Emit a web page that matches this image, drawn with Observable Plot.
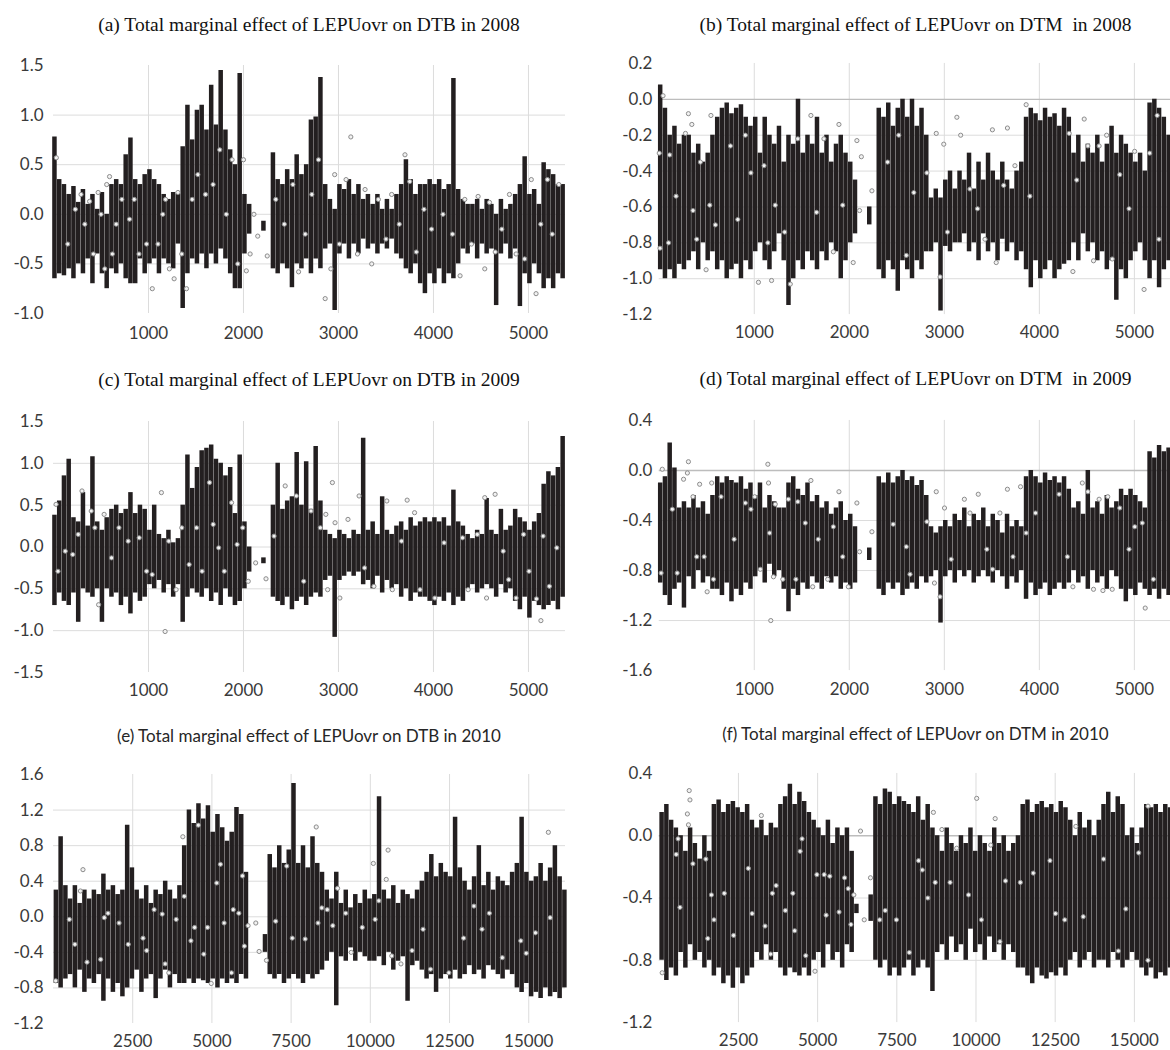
<!DOCTYPE html>
<html>
<head>
<meta charset="utf-8">
<script src="https://cdn.jsdelivr.net/npm/d3@7"></script>
<script src="https://cdn.jsdelivr.net/npm/@observablehq/plot@0.6"></script>
<style>
  html, body { margin: 0; padding: 0; background: #fff; }
  body { width: 1170px; height: 1050px; overflow: hidden; position: relative; }
  .panel { position: absolute; }
  .title { position: absolute; transform: translate(-50%, -50%); white-space: pre; color: #111; }
  .serif { font-family: "Liberation Serif", "DejaVu Serif", serif; font-size: 19.5px; }
  .sans { font-family: Lato, "Open Sans", sans-serif; font-size: 17px; color: #262626; }
</style>
</head>
<body>
<script>
// ---------------- tick labels ----------------
const xTicks0809 = [1000, 2000, 3000, 4000, 5000];
const xTicks2010 = [2500, 5000, 7500, 10000, 12500, 15000];
const yTicksA = [-1, -0.5, 0, 0.5, 1, 1.5];
const yTicksB = [-1.2, -1, -0.8, -0.6, -0.4, -0.2, 0, 0.2];
const yTicksC = [-1.5, -1, -0.5, 0, 0.5, 1, 1.5];
const yTicksD = [-1.6, -1.2, -0.8, -0.4, 0, 0.4];
const yTicksE = [-1.2, -0.8, -0.4, 0, 0.4, 0.8, 1.2, 1.6];
const yTicksF = [-1.2, -0.8, -0.4, 0, 0.4];

// observation numbering of the bar series (first observation, spacing)
const obs0809 = {start: 10, step: 50};
const obs2010 = {start: 75, step: 150};

// ---------------- bars: [low, high] per observation ----------------
const barsA = [
[-0.65,0.78],[-0.60,0.35],[-0.62,0.30],[-0.55,0.20],[-0.65,0.28],[-0.50,0.12],[-0.60,0.25],[-0.45,0.10],[-0.70,0.20],[-0.40,0.05],
[-0.60,0.22],[-0.75,0.00],[-0.55,0.30],[-0.60,0.35],[-0.50,0.30],[-0.65,0.60],[-0.70,0.77],[-0.70,0.35],[-0.45,0.30],[-0.60,0.40],
[-0.50,0.45],[-0.45,0.35],[-0.60,0.30],[-0.45,0.20],[-0.50,0.15],[-0.55,0.22],[-0.30,0.20],[-0.95,0.68],[-0.60,1.10],[-0.45,0.75],
[-0.50,1.05],[-0.40,1.10],[-0.55,0.85],[-0.40,1.30],[-0.50,0.90],[-0.35,1.45],[-0.45,0.85],[-0.60,0.65],[-0.75,0.50],[-0.75,1.42],
[-0.40,0.20],[-0.20,0.10],null,null,[-0.17,-0.07],null,[-0.55,0.62],[-0.60,0.35],[-0.50,0.30],[-0.55,0.45],
[-0.74,0.35],[-0.50,0.60],[-0.55,0.40],[-0.45,0.50],[-0.60,0.95],[-0.45,0.98],[-0.55,1.38],[-0.35,0.30],[-0.30,0.15],[-0.97,0.05],
[-0.40,0.30],[-0.30,0.25],[-0.45,0.35],[-0.30,0.20],[-0.40,0.30],[-0.25,0.15],[-0.35,0.20],[-0.30,0.10],[-0.40,0.20],[-0.30,0.05],
[-0.35,0.15],[-0.25,0.05],[-0.40,0.20],[-0.45,0.30],[-0.55,0.55],[-0.60,0.35],[-0.50,0.20],[-0.70,0.30],[-0.80,0.30],[-0.60,0.35],
[-0.70,0.30],[-0.55,0.35],[-0.70,0.25],[-0.60,0.30],[-0.65,1.37],[-0.50,0.25],[-0.35,0.15],[-0.40,0.10],[-0.30,0.10],[-0.45,0.15],
[-0.30,0.05],[-0.40,0.15],[-0.35,0.10],[-0.92,0.00],[-0.40,0.15],[-0.30,0.05],[-0.45,0.10],[-0.35,0.20],[-0.93,0.30],[-0.60,0.58],
[-0.70,0.20],[-0.50,0.25],[-0.60,0.10],[-0.75,0.52],[-0.65,0.45],[-0.75,0.40],[-0.60,0.30],[-0.65,0.30]
];
const barsB = [
[-0.95,0.08],[-1.00,-0.05],[-0.95,-0.20],[-1.00,-0.15],[-0.92,-0.25],[-0.95,-0.20],
[-0.90,-0.20],[-0.85,-0.30],[-0.95,-0.25],[-0.80,-0.35],[-0.90,-0.30],[-0.85,-0.20],
[-0.95,-0.10],[-0.90,-0.05],[-1.00,-0.02],[-0.95,-0.08],[-0.92,-0.05],[-1.00,-0.03],[-0.90,-0.10],[-0.95,-0.15],[-0.85,-0.10],
[-0.80,-0.30],[-0.90,-0.10],[-0.95,-0.20],[-0.85,-0.25],[-0.75,-0.15],[-0.90,-0.35],
[-1.15,-0.20],[-1.00,-0.25],[-0.90,0.00],[-0.95,-0.30],[-0.85,-0.20],[-0.90,-0.25],[-0.95,-0.10],[-0.85,-0.30],[-0.90,-0.20],[-0.80,-0.35],[-0.85,-0.25],[-1.00,-0.20],[-0.90,-0.30],[-0.80,-0.35],
[-0.75,-0.45],null,null,[-0.70,-0.60],null,
[-0.95,-0.05],[-1.00,-0.10],[-0.90,-0.02],[-0.95,-0.15],[-1.07,-0.05],[-0.90,0.00],[-0.95,-0.10],[-1.00,0.00],[-0.90,-0.15],[-0.95,-0.05],[-0.85,-0.20],
[-0.85,-0.55],[-0.80,-0.50],[-1.18,-0.55],[-0.82,-0.45],[-0.85,-0.40],[-0.80,-0.50],
[-0.80,-0.40],[-0.75,-0.45],[-0.85,-0.30],[-0.80,-0.50],[-0.90,-0.35],[-0.75,-0.45],[-0.85,-0.30],[-0.80,-0.40],[-0.90,-0.45],[-0.78,-0.35],
[-0.85,-0.45],[-0.80,-0.50],[-0.90,-0.40],[-0.85,-0.35],
[-0.95,-0.10],[-1.05,-0.05],[-0.90,-0.08],[-1.00,-0.12],[-0.95,-0.05],[-0.90,-0.10],[-1.00,-0.08],[-0.95,-0.15],[-0.92,-0.05],[-0.90,-0.10],
[-0.80,-0.30],[-0.90,-0.20],[-0.75,-0.35],[-0.85,-0.25],[-0.80,-0.30],[-0.90,-0.20],[-0.85,-0.35],
[-0.95,-0.25],[-0.90,-0.15],[-1.12,-0.30],[-0.95,-0.20],[-1.00,-0.25],[-0.90,-0.30],
[-0.85,-0.35],[-0.80,-0.30],[-0.90,-0.40],
[-1.00,-0.02],[-0.90,0.00],[-1.05,-0.05],[-0.95,-0.10],[-0.90,-0.20]
];
const barsC = [
[-0.70,0.38],[-0.55,0.55],[-0.65,0.85],[-0.70,1.05],[-0.55,0.35],[-0.90,0.30],[-0.50,0.65],[-0.55,0.25],[-0.60,1.08],[-0.50,0.30],
[-0.90,0.20],[-0.50,0.35],[-0.60,0.45],[-0.55,0.50],[-0.70,0.40],[-0.60,0.45],[-0.80,0.65],[-0.55,0.40],[-0.65,0.50],[-0.60,0.45],
[-0.45,0.20],[-0.50,0.50],[-0.40,0.15],[-0.55,0.10],[-0.45,0.20],[-0.60,0.05],[-0.45,0.10],[-0.90,0.50],[-0.60,1.10],[-0.50,0.70],
[-0.55,0.95],[-0.60,1.15],[-0.50,1.18],[-0.65,1.22],[-0.55,1.05],[-0.70,1.00],[-0.50,0.85],[-0.60,0.95],[-0.70,0.40],[-0.65,1.10],
[-0.50,0.30],[-0.30,0.00],null,null,[-0.20,-0.13],null,[-0.60,0.50],[-0.65,1.00],[-0.70,0.45],[-0.60,0.55],
[-0.75,0.60],[-0.65,1.13],[-0.60,0.50],[-0.70,1.02],[-0.60,0.45],[-0.55,1.20],[-0.60,0.55],[-0.40,0.20],[-0.35,0.15],[-1.08,0.10],
[-0.40,0.20],[-0.35,0.15],[-0.30,0.10],[-0.35,0.20],[-0.30,0.15],[-0.45,1.30],[-0.40,0.20],[-0.50,0.30],[-0.35,0.15],[-0.55,0.60],
[-0.40,0.20],[-0.50,0.15],[-0.45,0.25],[-0.60,0.30],[-0.50,0.20],[-0.65,0.35],[-0.55,0.25],[-0.60,0.30],[-0.60,0.35],[-0.65,0.30],
[-0.70,0.35],[-0.60,0.30],[-0.65,0.35],[-0.55,0.25],[-0.70,0.68],[-0.60,0.30],[-0.65,0.25],[-0.50,0.15],[-0.45,0.10],[-0.55,0.20],
[-0.50,0.15],[-0.45,0.58],[-0.50,0.20],[-0.60,0.15],[-0.45,0.45],[-0.55,0.20],[-0.50,0.25],[-0.65,0.45],[-0.75,0.35],[-0.60,0.30],
[-0.85,0.20],[-0.65,0.30],[-0.70,0.40],[-0.75,0.75],[-0.70,0.90],[-0.65,0.85],[-0.75,0.95],[-0.60,1.32]
];
const barsD = [
[-0.90,-0.10],[-1.00,-0.05],[-1.08,0.22],[-0.95,0.02],
[-0.90,-0.30],[-1.10,-0.25],[-0.85,-0.30],[-0.95,-0.20],[-0.80,-0.30],[-0.90,-0.25],[-0.85,-0.35],[-0.95,-0.20],
[-0.95,-0.05],[-1.00,-0.10],[-0.90,-0.05],[-1.05,-0.08],[-0.95,-0.10],[-1.00,-0.05],[-0.90,-0.15],[-0.95,-0.10],
[-0.85,-0.20],[-0.80,-0.10],[-0.90,-0.30],[-0.75,-0.20],[-0.85,-0.25],[-0.80,-0.30],
[-0.95,-0.30],[-1.13,-0.10],[-0.95,-0.05],[-1.00,-0.15],[-0.90,-0.20],[-0.95,-0.10],[-0.85,-0.25],[-0.90,-0.20],[-0.95,-0.30],[-0.85,-0.25],[-0.90,-0.35],[-0.85,-0.30],[-0.95,-0.25],[-0.90,-0.40],[-0.95,-0.35],
[-0.90,-0.45],null,null,[-0.72,-0.62],null,
[-0.95,-0.05],[-1.00,-0.10],[-0.90,-0.02],[-0.95,-0.10],[-0.90,-0.05],[-1.00,0.00],[-0.95,-0.08],[-0.90,-0.05],[-0.95,-0.12],[-0.85,-0.08],[-0.90,-0.20],
[-0.85,-0.45],[-0.80,-0.50],[-1.22,-0.45],[-0.85,-0.40],[-0.80,-0.45],[-0.90,-0.35],[-0.80,-0.40],[-0.85,-0.30],[-0.80,-0.45],[-0.90,-0.35],
[-0.85,-0.40],[-0.80,-0.30],[-0.85,-0.45],[-0.90,-0.35],[-0.80,-0.40],[-0.85,-0.50],[-0.95,-0.35],[-0.85,-0.45],[-0.90,-0.40],[-0.80,-0.45],
[-1.03,-0.05],[-0.90,0.00],[-1.00,-0.05],[-0.95,-0.10],[-0.90,-0.02],[-1.00,-0.08],[-0.95,-0.05],[-0.90,-0.10],[-0.95,-0.05],[-0.90,-0.15],
[-0.80,-0.30],[-0.90,-0.25],[-0.85,-0.35],[-0.95,0.00],[-0.80,-0.30],[-0.90,-0.25],[-0.85,-0.35],[-0.95,-0.20],[-0.80,-0.30],[-0.85,-0.25],
[-0.95,-0.15],[-1.05,-0.20],[-0.95,-0.15],[-1.00,-0.20],[-0.90,-0.25],[-0.95,-0.30],
[-1.00,0.15],[-0.95,0.10],[-1.03,0.20],[-0.95,0.15],[-1.00,0.18]
];
const barsE = [
[-0.75,0.30],[-0.80,0.90],[-0.70,0.35],
[-0.65,0.20],[-0.80,0.35],[-0.60,0.15],[-0.85,0.30],[-0.70,0.20],[-0.75,0.30],[-0.65,0.25],
[-0.95,0.48],[-0.70,0.30],[-0.85,0.35],[-0.75,0.25],[-0.90,0.30],[-0.80,1.03],
[-0.70,0.55],[-0.60,0.30],[-0.85,0.20],[-0.70,0.35],[-0.65,0.15],[-0.92,0.30],[-0.70,0.25],[-0.60,0.40],[-0.80,0.30],[-0.65,0.20],[-0.75,0.35],
[-0.75,0.80],[-0.70,1.20],[-0.75,1.05],[-0.70,1.27],[-0.72,1.10],[-0.75,1.25],[-0.70,0.95],[-0.80,1.15],[-0.70,1.00],[-0.75,0.85],[-0.70,0.95],[-0.75,1.23],[-0.65,1.15],[-0.70,0.50],
null,null,null,[-0.40,-0.20],
[-0.65,0.70],[-0.70,0.55],[-0.65,0.80],[-0.75,0.60],[-0.70,0.75],[-0.65,1.50],[-0.70,0.60],[-0.75,0.80],[-0.65,0.55],[-0.70,0.90],[-0.65,0.60],[-0.60,0.50],
[-0.50,0.30],[-0.40,0.20],[-1.00,0.50],[-0.45,0.15],[-0.50,0.30],[-0.35,0.10],[-0.50,0.25],[-0.40,0.15],[-0.45,0.30],[-0.50,0.20],
[-0.50,0.25],[-0.45,1.35],[-0.55,0.30],[-0.40,0.20],[-0.60,0.35],[-0.50,0.15],[-0.45,0.30],[-0.95,0.25],[-0.55,0.20],[-0.50,0.30],
[-0.60,0.40],[-0.70,0.50],[-0.65,0.70],[-0.85,0.45],[-0.70,0.60],[-0.65,0.50],[-0.70,0.45],[-0.60,1.12],[-0.70,0.55],[-0.65,0.40],
[-0.55,0.30],[-0.65,0.45],[-0.60,0.80],[-0.70,0.35],[-0.55,0.50],[-0.60,0.30],[-0.65,0.45],[-0.70,0.40],[-0.60,0.35],[-0.65,0.50],
[-0.80,0.60],[-0.85,1.12],[-0.75,0.50],[-0.90,0.40],
[-0.85,0.45],[-0.92,0.60],[-0.80,0.40],[-0.90,0.55],[-0.85,0.80],[-0.92,0.45],[-0.80,0.30]
];
const barsF = [
[-0.80,0.15],[-0.93,0.20],[-0.85,0.10],[-0.90,0.05],
[-0.75,0.00],[-0.85,-0.10],[-0.70,0.05],[-0.80,-0.05],[-0.75,-0.15],[-0.85,0.00],[-0.80,-0.10],
[-0.90,0.20],[-0.85,0.23],[-0.95,0.15],[-0.90,0.20],[-0.98,0.22],[-0.85,0.18],[-0.95,0.15],[-0.90,0.20],[-0.85,0.10],
[-0.75,0.05],[-0.80,0.10],[-0.70,0.00],[-0.80,0.08],[-0.75,0.05],
[-0.85,0.20],[-0.90,0.25],[-0.85,0.33],[-0.88,0.20],[-0.90,0.28],[-0.85,0.22],[-0.90,0.15],
[-0.80,0.10],[-0.75,0.05],[-0.85,0.00],[-0.70,0.10],[-0.80,-0.05],[-0.75,0.05],[-0.85,0.00],[-0.70,0.05],[-0.75,-0.10],
[-0.50,-0.44],null,null,[-0.55,-0.38],[-0.80,0.25],
[-0.85,0.20],[-0.80,0.30],[-0.90,0.28],[-0.85,0.20],[-0.90,0.25],[-0.85,0.22],
[-0.80,0.20],[-0.90,0.15],[-0.85,0.25],[-0.80,0.10],[-0.85,0.20],[-1.00,0.05],
[-0.75,0.00],[-0.70,-0.10],[-0.80,0.05],[-0.65,-0.05],[-0.75,-0.10],[-0.70,0.00],[-0.80,-0.05],[-0.60,0.05],[-0.75,-0.10],
[-0.70,0.00],[-0.80,-0.05],[-0.65,-0.10],[-0.75,0.05],[-0.70,-0.05],[-0.80,0.00],[-0.70,-0.10],[-0.75,-0.05],[-0.85,0.00],
[-0.85,0.20],[-0.90,0.23],[-0.95,0.15],[-0.85,0.20],[-0.90,0.22],[-0.92,0.18],[-0.88,0.20],[-0.90,0.15],[-0.85,0.22],[-0.90,0.18],
[-0.80,0.10],[-0.75,0.00],[-0.85,0.15],[-0.80,0.05],[-0.75,0.10],[-0.85,0.00],[-0.80,0.10],
[-0.80,0.20],[-0.85,0.28],[-0.75,0.15],[-0.80,0.25],[-0.85,0.20],
[-0.80,0.00],[-0.75,0.05],[-0.80,-0.05],[-0.85,0.05],
[-0.90,0.20],[-0.85,0.18],[-0.92,0.20],[-0.88,0.15],[-0.90,0.20],[-0.85,0.18]
];

// ---------------- point estimates: [observation, value] ----------------
const pointsA = [[30,0.57],[150,-0.3],[230,0.05],[290,0.2],[330,-0.1],[380,0.13],[420,-0.4],[470,0.22],[500,0.0],[540,-0.55],[560,0.3],[590,0.38],[620,-0.4],[660,-0.1],[720,0.15],[800,-0.05],[850,0.15],[900,-0.4],[980,-0.3],[1040,-0.75],[1100,-0.3],[1150,0.0],[1180,0.15],[1220,-0.55],[1270,-0.65],[1310,0.22],[1350,-0.4],[1400,-0.75],[1460,0.15],[1520,0.4],[1600,0.2],[1680,0.3],[1750,0.65],[1820,0.0],[1880,0.55],[1940,-0.5],[2000,0.55],[2030,-0.57],[2070,-0.4],[2110,0.0],[2150,-0.22],[2250,-0.42],[2340,0.15],[2430,-0.1],[2520,0.3],[2580,-0.58],[2650,-0.2],[2720,0.2],[2790,0.55],[2860,-0.85],[2920,-0.55],[2960,0.4],[3010,-0.3],[3080,0.35],[3130,0.78],[3200,-0.4],[3280,0.25],[3350,-0.5],[3420,0.15],[3500,-0.25],[3560,0.2],[3640,-0.1],[3700,0.6],[3750,0.33],[3820,-0.38],[3900,0.05],[3980,-0.15],[4100,0.0],[4200,-0.2],[4280,-0.62],[4330,0.15],[4400,-0.3],[4470,0.18],[4540,-0.55],[4590,0.12],[4650,-0.38],[4720,-0.15],[4800,0.2],[4870,-0.4],[4960,-0.45],[5030,0.35],[5080,-0.8],[5130,-0.1],[5200,0.35],[5250,-0.2],[5320,0.3]];
const pointsB = [[40,0.02],[0,-0.3],[8,-0.83],[110,-0.31],[98,-0.8],[177,-0.54],[307,-0.08],[343,-0.14],[276,-0.19],[355,-0.62],[394,-0.78],[433,-0.35],[493,-0.95],[544,-0.09],[532,-0.59],[591,-0.7],[749,-0.26],[827,-0.67],[906,-0.2],[965,-0.41],[1044,-1.02],[1103,-0.37],[1143,-0.8],[1182,-1.01],[1221,-0.59],[1320,-0.74],[1379,-1.03],[1458,-0.22],[1596,-0.09],[1655,-0.63],[1733,-0.22],[1832,-0.85],[1891,-0.14],[1931,-0.59],[2041,-0.91],[2080,-0.23],[2108,-0.62],[2127,-0.32],[2238,-0.51],[2403,-0.35],[2521,-0.2],[2600,-0.87],[2679,-0.52],[2817,-0.41],[2915,-0.19],[2955,-0.99],[2994,-0.25],[3033,-0.74],[3132,-0.1],[3172,-0.2],[3270,-0.5],[3349,-0.61],[3428,-0.78],[3506,-0.17],[3546,-0.91],[3625,-0.48],[3664,-0.16],[3743,-0.37],[3861,-0.03],[3900,-0.54],[4314,-0.19],[4353,-0.96],[4393,-0.45],[4472,-0.11],[4511,-0.26],[4570,-0.9],[4629,-0.26],[4708,-0.2],[4767,-0.89],[4846,-0.42],[4944,-0.61],[5003,-0.29],[5102,-1.06],[5161,-0.3],[5240,-0.09],[5259,-0.78]];
const pointsC = [[27,0.51],[47,-0.29],[124,-0.05],[202,-0.09],[261,0.15],[300,0.67],[397,0.43],[436,0.23],[475,-0.69],[533,0.39],[611,-0.13],[689,0.23],[786,0.07],[902,0.11],[980,-0.29],[1039,-0.33],[1136,0.65],[1175,-1.01],[1214,0.07],[1291,-0.51],[1350,0.23],[1428,-0.21],[1506,0.23],[1564,-0.29],[1642,0.77],[1681,0.27],[1739,-0.01],[1798,-0.29],[1875,0.53],[1933,0.03],[1992,0.23],[2050,-0.41],[2128,-0.19],[2237,-0.38],[2322,0.13],[2439,0.73],[2556,0.61],[2634,-0.41],[2711,0.43],[2809,0.23],[2867,0.39],[2886,-0.51],[2936,0.77],[2964,0.29],[3015,-0.61],[3100,0.33],[3217,0.61],[3275,-0.25],[3373,-0.47],[3509,0.55],[3567,-0.51],[3664,0.07],[3723,0.56],[3801,0.41],[3859,-0.51],[4015,-0.61],[4112,0.05],[4306,0.11],[4365,-0.51],[4462,0.15],[4540,0.59],[4559,-0.61],[4649,0.63],[4734,-0.05],[4792,-0.39],[4870,-0.61],[4948,0.15],[5006,-0.29],[5084,-0.62],[5131,-0.88],[5154,0.13],[5221,-0.47],[5298,-0.01]];
const pointsD = [[32,0.01],[20,-0.82],[138,-0.31],[189,-0.82],[256,-0.07],[296,-0.02],[307,0.07],[355,-0.21],[394,-0.69],[425,-0.11],[473,-0.69],[504,-0.97],[552,-0.1],[571,-0.87],[650,-0.21],[788,-0.55],[906,-0.26],[965,-0.31],[1005,-0.21],[1064,-0.79],[1143,0.05],[1150,-0.1],[1162,-0.5],[1174,-1.2],[1202,-0.85],[1221,-0.27],[1300,-0.87],[1359,-0.23],[1438,-0.87],[1458,-0.25],[1537,-0.42],[1596,-0.08],[1615,-0.93],[1674,-0.55],[1773,-0.87],[1832,-0.45],[1891,-0.17],[1931,-0.69],[1990,-0.93],[2080,-0.26],[2108,-0.65],[2238,-0.49],[2462,-0.43],[2600,-0.61],[2639,-0.83],[2817,-0.41],[2896,-0.9],[2915,-0.17],[2955,-1.01],[3002,-0.3],[3073,-0.71],[3211,-0.23],[3270,-0.34],[3357,-0.19],[3447,-0.63],[3507,-0.79],[3585,-0.34],[3664,-0.15],[3723,-0.69],[3802,-0.13],[3861,-0.5],[3960,-0.34],[4208,-0.19],[4295,-0.69],[4353,-0.93],[4452,-0.1],[4511,-0.17],[4570,-0.95],[4629,-0.23],[4669,-0.96],[4720,-0.21],[4767,-0.95],[4846,-0.3],[4944,-0.63],[5004,-0.45],[5083,-0.42],[5114,-1.1],[5200,-0.87]];
const pointsE = [[70,-0.72],[500,-0.03],[675,-0.31],[849,0.29],[930,0.53],[1058,-0.51],[1489,-0.48],[1605,-0.01],[1721,0.04],[2070,-0.07],[2361,-0.31],[2826,-0.24],[2942,-0.38],[3175,0.08],[3431,0.03],[3524,-0.53],[3640,-0.63],[3873,-0.03],[4082,0.9],[4129,0.23],[4338,-0.27],[4454,-0.12],[4571,1.03],[4745,-0.42],[4861,-0.12],[4978,-0.75],[5152,0.38],[5268,0.59],[5385,-0.07],[5617,-0.63],[5675,0.08],[5850,0.04],[5966,0.46],[6024,-0.33],[6141,-0.1],[6385,-0.07],[6490,-0.39],[6722,-0.49],[7013,-0.05],[7362,0.57],[7536,-0.24],[7943,-0.25],[8292,1.01],[8350,-0.07],[8467,0.1],[8641,0.08],[8815,-0.1],[8967,0.32],[9222,0.04],[9397,-0.4],[9746,-0.12],[10095,0.6],[10153,-0.03],[10269,0.18],[10502,0.42],[10560,0.75],[10676,-0.44],[10967,-0.53],[11316,-0.38],[11665,-0.14],[11898,-0.59],[12479,-0.63],[12944,-0.24],[13270,0.12],[13526,-0.14],[13758,0.04],[14165,-0.46],[14747,-0.27],[14921,-0.41],[15212,-0.18],[15619,0.95],[15677,-0.01]];
const pointsF = [[93,-0.88],[537,-0.12],[596,-0.02],[654,-0.46],[888,0.14],[923,0.07],[970,0.23],[946,0.29],[1063,-0.18],[1472,-0.15],[1530,-0.66],[1647,-0.38],[1729,-0.54],[2056,-0.37],[2348,-0.64],[2815,-0.21],[2932,-0.5],[3224,0.13],[3340,-0.58],[3516,-0.76],[3574,-0.37],[3691,-0.32],[3983,-0.48],[4217,-0.37],[4275,-0.61],[4450,-0.1],[4509,-0.02],[4625,-0.77],[4917,-0.87],[4976,-0.25],[5209,-0.25],[5268,-0.51],[5385,-0.26],[5677,-0.49],[5852,-0.27],[5969,-0.34],[6050,-0.57],[6144,-0.38],[6354,0.03],[6471,-0.54],[6669,-0.27],[6961,-0.54],[7136,-0.48],[7487,-0.54],[7896,-0.75],[8188,-0.16],[8304,-0.22],[8480,-0.4],[8655,0.15],[8713,-0.3],[8923,0.04],[9181,-0.3],[9391,-0.08],[9765,-0.38],[10022,0.24],[10173,-0.54],[10465,-0.06],[10605,0.11],[10757,-0.68],[10932,-0.29],[11400,-0.3],[11808,-0.24],[12334,-0.16],[12509,-0.5],[12801,-0.54],[13152,0.06],[13385,-0.52],[14028,-0.15],[14495,-0.74],[14729,-0.47],[15137,-0.11],[15430,0.19],[15430,-0.8]];

// ---------------- titles ----------------
const titles = [
  "(a) Total marginal effect of LEPUovr on DTB in 2008",
  "(b) Total marginal effect of LEPUovr on DTM  in 2008",
  "(c) Total marginal effect of LEPUovr on DTB in 2009",
  "(d) Total marginal effect of LEPUovr on DTM  in 2009",
  "(e) Total marginal effect of LEPUovr on DTB in 2010",
  "(f) Total marginal effect of LEPUovr on DTM in 2010"
];

// ---------------- helpers ----------------
function toBars(pairs, obs) {
  const out = [];
  pairs.forEach((p, i) => { if (p) out.push({x: obs.start + i * obs.step, lo: p[0], hi: p[1]}); });
  return out;
}
function toPoints(pairs) { return pairs.map(([x, y]) => ({x, y})); }

const LEFT = {left: 0, width: 580, mLeft: 53, mRight: 15, padY: 10};
const RIGHT = {left: 580, width: 592, mLeft: 79, mRight: 0, padY: 7};

function panel(cfg) {
  const {col, plotTop, plotBottom, bars, points, xDomain, yDomain, xTicks, yTicks, zero, padX, titleText, titleClass, titleY} = cfg;
  const mTop = 14, mBottom = 36;
  const height = (plotBottom - plotTop) + mTop + mBottom;
  const inner = yTicks.slice(1, -1);
  const marks = [
    Plot.gridX(xTicks, {stroke: "#dcdcdc", strokeOpacity: 1, strokeWidth: 1}),
    Plot.gridY(inner.filter(d => !(zero && d === 0)), {stroke: "#dcdcdc", strokeOpacity: 1, strokeWidth: 1}),
  ];
  if (zero) marks.push(Plot.ruleY([0], {stroke: "#bdbdbd", strokeWidth: 1.3}));
  marks.push(
    Plot.ruleX(bars, {x: "x", y1: "lo", y2: "hi", stroke: "#231f20", strokeWidth: 4.5}),
    Plot.dot(points, {x: "x", y: "y", r: 2.1, stroke: "#8c8c8c", fill: "#f2f2f2", strokeWidth: 1}),
    Plot.axisX({ticks: xTicks, tickSize: 0, tickPadding: padX, tickFormat: d => String(d), label: null}),
    Plot.axisY({ticks: yTicks, tickSize: 0, tickPadding: col.padY, tickFormat: d => d.toFixed(1), label: null})
  );
  const svg = Plot.plot({
    width: col.width, height,
    marginLeft: col.mLeft, marginRight: col.mRight, marginTop: mTop, marginBottom: mBottom,
    x: {domain: xDomain, label: null},
    y: {domain: yDomain, label: null},
    style: {fontFamily: "Lato, 'Open Sans', sans-serif", fontSize: "17px", color: "#3a3a3a", background: "transparent", overflow: "visible"},
    marks
  });
  const div = document.createElement("div");
  div.className = "panel";
  div.style.left = col.left + "px";
  div.style.top = (plotTop - mTop) + "px";
  div.appendChild(svg);
  document.body.appendChild(div);

  const t = document.createElement("div");
  t.className = "title " + titleClass;
  t.textContent = titleText;
  t.style.left = (col.left + col.mLeft + (col.width - col.mLeft - col.mRight) / 2) + "px";
  t.style.top = titleY + "px";
  document.body.appendChild(t);
}

panel({col: LEFT, plotTop: 65, plotBottom: 313, bars: toBars(barsA, obs0809), points: toPoints(pointsA),
  xDomain: [0, 5390], yDomain: [-1, 1.5], xTicks: xTicks0809, yTicks: yTicksA, zero: false, padX: 13,
  titleText: titles[0], titleClass: "serif", titleY: 25});
panel({col: RIGHT, plotTop: 63, plotBottom: 315, bars: toBars(barsB, obs0809), points: toPoints(pointsB),
  xDomain: [0, 5380], yDomain: [-1.2, 0.2], xTicks: xTicks0809, yTicks: yTicksB, zero: true, padX: 11,
  titleText: titles[1], titleClass: "serif", titleY: 25});
panel({col: LEFT, plotTop: 421, plotBottom: 672, bars: toBars(barsC, obs0809), points: toPoints(pointsC),
  xDomain: [0, 5390], yDomain: [-1.5, 1.5], xTicks: xTicks0809, yTicks: yTicksC, zero: false, padX: 11,
  titleText: titles[2], titleClass: "serif", titleY: 380});
panel({col: RIGHT, plotTop: 420, plotBottom: 671, bars: toBars(barsD, obs0809), points: toPoints(pointsD),
  xDomain: [0, 5380], yDomain: [-1.6, 0.4], xTicks: xTicks0809, yTicks: yTicksD, zero: true, padX: 12,
  titleText: titles[3], titleClass: "serif", titleY: 379});
panel({col: LEFT, plotTop: 774, plotBottom: 1023, bars: toBars(barsE, obs2010), points: toPoints(pointsE),
  xDomain: [0, 16160], yDomain: [-1.2, 1.6], xTicks: xTicks2010, yTicks: yTicksE, zero: false, padX: 11,
  titleText: titles[4], titleClass: "sans", titleY: 735});
panel({col: RIGHT, plotTop: 773, plotBottom: 1023, bars: toBars(barsF, obs2010), points: toPoints(pointsF),
  xDomain: [0, 16140], yDomain: [-1.2, 0.4], xTicks: xTicks2010, yTicks: yTicksF, zero: true, padX: 11,
  titleText: titles[5], titleClass: "sans", titleY: 733});
</script>
</body>
</html>
